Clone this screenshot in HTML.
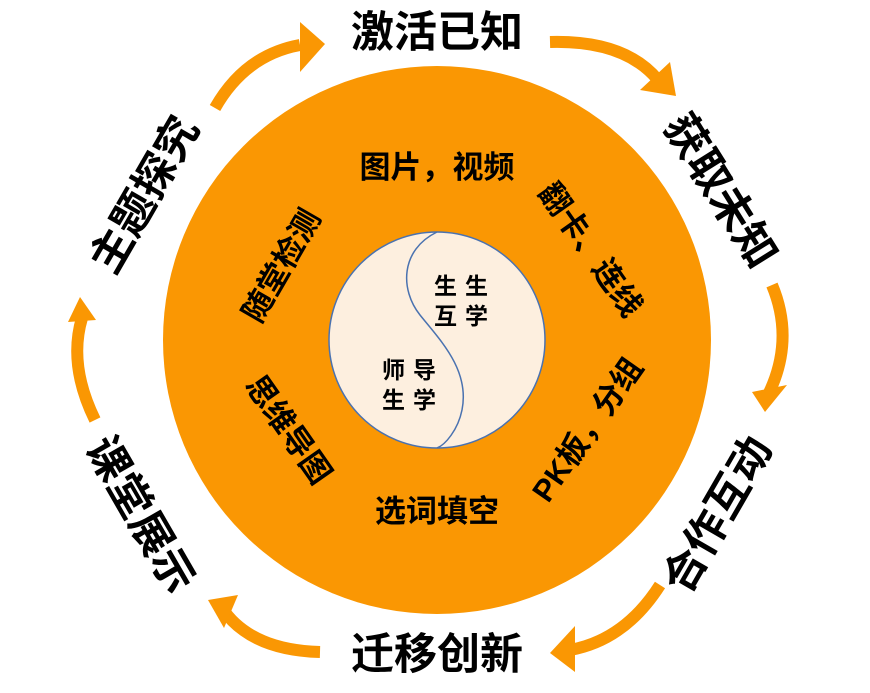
<!DOCTYPE html>
<html><head><meta charset="utf-8"><style>
html,body{margin:0;padding:0;background:#fff;}
body{width:870px;height:693px;overflow:hidden;position:relative;font-family:"Liberation Sans","Noto Sans CJK SC",sans-serif;}
svg{position:absolute;left:0;top:0;}
.t{position:absolute;font-weight:bold;color:#000;white-space:nowrap;transform-origin:center center;}
.o{font-size:43px;line-height:50px;}
.i{font-size:31px;line-height:36px;}
.c{font-size:23px;letter-spacing:8px;line-height:30px;}
</style></head><body>
<svg width="870" height="693" viewBox="0 0 870 693">
<circle cx="437" cy="340" r="274" fill="#FA9703"/>
<circle cx="437" cy="340" r="108" fill="#FDEFDF" stroke="#4A72B0" stroke-width="1.5"/>
<path d="M437,232 C400,250 400,290 420,315 C440,340 470,370 462,410 C458,430 445,445 437,448" fill="none" stroke="#4A72B0" stroke-width="1.5"/>
<g fill="none" stroke="#FA9703" stroke-linecap="butt">
<path d="M215,108 Q245,55 300,45" stroke-width="12"/>
<path d="M550,42 Q625,40 658,80" stroke-width="12"/>
<path d="M772,285 Q795,340 768,395" stroke-width="12"/>
<path d="M660,585 Q625,640 570,650" stroke-width="12"/>
<path d="M320,652 Q250,650 222,608" stroke-width="12"/>
<path d="M95,420 Q68,365 82,318" stroke-width="12"/>
</g>
<g fill="#FA9703">
<polygon points="300,22 325,44 300,72"/>
<polygon points="640,90 676,96 670,62"/>
<polygon points="752,392 765,412 787,385"/>
<polygon points="575,626 550,653 575,672"/>
<polygon points="238,595 208,600 224,628"/>
<polygon points="68,322 80,297 96,320"/>
</g>
</svg>
<div class="t o" style="left:287px;top:8px;width:300px;text-align:center;">激活已知</div>
<div class="t o" style="left:570px;top:166px;width:300px;text-align:center;transform:rotate(58deg);">获取未知</div>
<div class="t o" style="left:568px;top:490px;width:300px;text-align:center;transform:rotate(-60deg);">合作互动</div>
<div class="t o" style="left:287px;top:630px;width:300px;text-align:center;">迁移创新</div>
<div class="t o" style="left:-10px;top:490px;width:300px;text-align:center;transform:rotate(60deg);">课堂展示</div>
<div class="t o" style="left:-5px;top:170px;width:300px;text-align:center;transform:rotate(-60deg);">主题探究</div>
<div class="t i" style="left:287px;top:150px;width:300px;text-align:center;">图片，视频</div>
<div class="t i" style="left:440px;top:232px;width:300px;text-align:center;transform:rotate(55deg);">翻卡、连线</div>
<div class="t i" style="left:438px;top:412px;width:300px;text-align:center;transform:rotate(-55deg);">PK板，分组</div>
<div class="t i" style="left:287px;top:494px;width:300px;text-align:center;">选词填空</div>
<div class="t i" style="left:138px;top:412px;width:300px;text-align:center;transform:rotate(55deg);">思维导图</div>
<div class="t i" style="left:132px;top:248px;width:300px;text-align:center;transform:rotate(-60deg);">随堂检测</div>
<div class="t c" style="left:434px;top:271px;">生生<br>互学</div>
<div class="t c" style="left:382px;top:355px;">师导<br>生学</div>
</body></html>
